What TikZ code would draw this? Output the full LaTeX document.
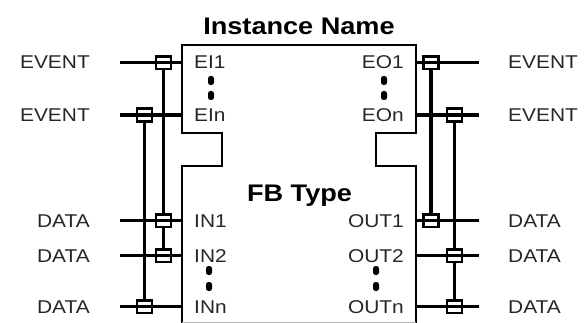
\documentclass[tikz,border=0pt]{standalone}
\usepackage{fontspec}
\setmainfont{Liberation Sans}[FakeStretch=1.13]
\begin{document}
\begin{tikzpicture}[x=1pt,y=-1pt,
  lbl/.style={inner sep=0pt,font=\fontsize{18.5}{20}\selectfont,text=black!85},
  ttl/.style={inner sep=0pt,font=\fontsize{24}{26}\selectfont\bfseries},
  wire/.style={line width=3.2pt},
  outline/.style={line width=2.8pt,line join=miter},
  junc/.style={draw,line width=2.6pt,fill=white,minimum width=15pt,minimum height=12.5pt,inner sep=0pt},
  vdot/.style={fill=black,rounded corners=2.5pt}]
\useasboundingbox (0,0) rectangle (586,323);
% block outline
\draw[outline] (182,324) -- (182,166) -- (222,166) -- (222,133) -- (182,133) -- (182,45)
  -- (416,45) -- (416,133) -- (376,133) -- (376,166) -- (416,166) -- (416,324);
\draw[black!30,line width=1pt] (182,322.5) -- (416,322.5);
% titles
\node[ttl,anchor=base] (title) at (299,35) {Instance Name};
\node[ttl,anchor=base] (fbtype) at (299.5,201) {FB Type};
% wire rows
\foreach \n/\y in {e1/62.8,en/115,d1/220.7,d2/255.7,dn/306.7}{
  \coordinate (L\n) at (120,\y);
  \coordinate (P\n) at (182,\y);
  \coordinate (Q\n) at (416,\y);
  \coordinate (R\n) at (479,\y);
}
% outer labels
\node[lbl,anchor=base east] (le1) at (90,68.9) {EVENT};
\node[lbl,anchor=base east] (len) at (90,121.6) {EVENT};
\node[lbl,anchor=base east] (ld1) at (90,227.3) {DATA};
\node[lbl,anchor=base east] (ld2) at (90,262.3) {DATA};
\node[lbl,anchor=base east] (ldn) at (90,313.3) {DATA};
\node[lbl,anchor=base west] (re1) at (508,68.9) {EVENT};
\node[lbl,anchor=base west] (ren) at (508,121.6) {EVENT};
\node[lbl,anchor=base west] (rd1) at (508,227.3) {DATA};
\node[lbl,anchor=base west] (rd2) at (508,262.3) {DATA};
\node[lbl,anchor=base west] (rdn) at (508,313.3) {DATA};
% pin labels
\node[lbl,anchor=base west] (EI1) at (194,68.9) {EI1};
\node[lbl,anchor=base west] (EIn) at (194,121.6) {EIn};
\node[lbl,anchor=base west] (IN1) at (194,227.3) {IN1};
\node[lbl,anchor=base west] (IN2) at (194,262.3) {IN2};
\node[lbl,anchor=base west] (INn) at (194,313.3) {INn};
\node[lbl,anchor=base east] (EO1) at (404,68.9) {EO1};
\node[lbl,anchor=base east] (EOn) at (404,121.6) {EOn};
\node[lbl,anchor=base east] (OUT1) at (404,227.3) {OUT1};
\node[lbl,anchor=base east] (OUT2) at (404,262.3) {OUT2};
\node[lbl,anchor=base east] (OUTn) at (404,313.3) {OUTn};
% vertical dots
\fill[vdot] (208,76) rectangle (214,85);
\fill[vdot] (208,91) rectangle (214,100);
\fill[vdot] (206,266) rectangle (212,275);
\fill[vdot] (206,282) rectangle (212,291);
\fill[vdot] (381,76) rectangle (387,85);
\fill[vdot] (381,91) rectangle (387,100);
\fill[vdot] (373,266) rectangle (379,275);
\fill[vdot] (373,282) rectangle (379,291);
% junction positions
\coordinate (ja) at (163.5,62.8);
\coordinate (jb) at (144.5,115);
\coordinate (jc) at (163.5,220.7);
\coordinate (jd) at (163.5,255.7);
\coordinate (je) at (144.5,306.7);
\coordinate (ka) at (431,62.8);
\coordinate (kb) at (454.5,115);
\coordinate (kc) at (431,220.7);
\coordinate (kd) at (454.5,255.7);
\coordinate (ke) at (454.5,306.7);
% vertical bars
\draw[wire] (ja) -- (jd);
\draw[wire] (jb) -- (je);
\draw[wire] (ka) -- (kc);
\draw[wire] (kb) -- (ke);
% junction boxes
\foreach \j in {ja,jb,jc,jd,je,ka,kb,kc,kd,ke}{
  \node[junc] (b\j) at (\j) {};
}
% horizontal wires
\foreach \n in {e1,en,d1,d2,dn}{
  \draw[wire] (L\n) -- (P\n);
  \draw[wire] (Q\n) -- (R\n);
}
\end{tikzpicture}
\end{document}
